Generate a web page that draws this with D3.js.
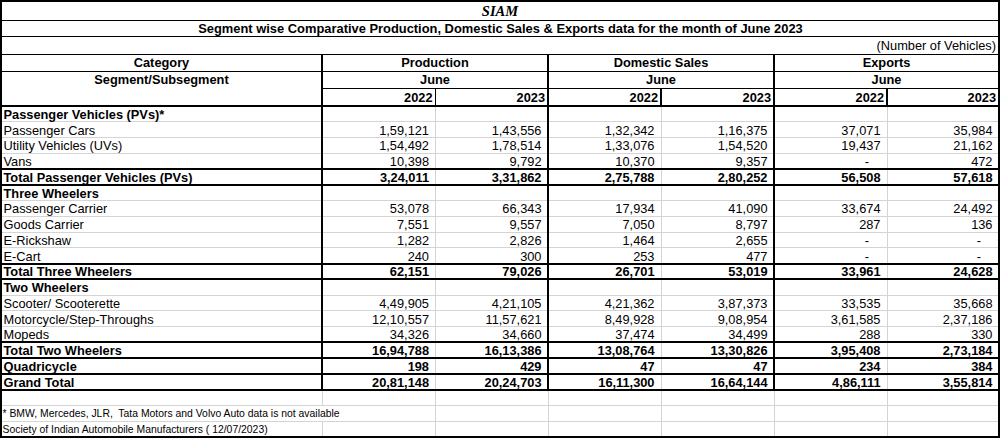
<!DOCTYPE html>
<html><head><meta charset="utf-8">
<script src="https://cdn.jsdelivr.net/npm/d3@7"></script>
<style>
html,body{margin:0;padding:0;background:#fff;}
svg{display:block;font-family:"Liberation Sans",Arial,sans-serif;}
text{white-space:pre;}
</style></head>
<body>
<svg id="c" width="1000" height="438"></svg>
<script>
// ---------- DATA ----------
const categories = [
  "Passenger Vehicles (PVs)*","Passenger Cars","Utility Vehicles (UVs)","Vans",
  "Total Passenger Vehicles (PVs)","Three Wheelers","Passenger Carrier","Goods Carrier",
  "E-Rickshaw","E-Cart","Total Three Wheelers","Two Wheelers","Scooter/ Scooterette",
  "Motorcycle/Step-Throughs","Mopeds","Total Two Wheelers","Quadricycle","Grand Total"
];
const rowTypes = ["group","item","item","item","total","group","item","item","item","item",
  "total","group","item","item","item","total","total","total"];
const empty = null, dash = "-";
const prod2022 = [empty,159121,154492,10398,324011,empty,53078,7551,1282,240,62151,empty,449905,1210557,34326,1694788,198,2081148];
const prod2023 = [empty,143556,178514,9792,331862,empty,66343,9557,2826,300,79026,empty,421105,1157621,34660,1613386,429,2024703];
const dom2022  = [empty,132342,133076,10370,275788,empty,17934,7050,1464,253,26701,empty,421362,849928,37474,1308764,47,1611300];
const dom2023  = [empty,116375,154520,9357,280252,empty,41090,8797,2655,477,53019,empty,387373,908954,34499,1330826,47,1664144];
const exp2022  = [empty,37071,19437,dash,56508,empty,33674,287,dash,dash,33961,empty,33535,361585,288,395408,234,486111];
const exp2023  = [empty,35984,21162,472,57618,empty,24492,136,dash,dash,24628,empty,35668,237186,330,273184,384,355814];
const seriesGroups = ["Production","Domestic Sales","Exports"];
const years = ["2022","2023"];
const monthLabel = "June";
const headerTitle = "SIAM";
const subTitle = "Segment wise Comparative Production, Domestic Sales & Exports data for the month of June 2023";
const unitNote = "(Number of Vehicles)";
const footnotes = ["* BMW, Mercedes, JLR,  Tata Motors and Volvo Auto data is not available",
                   "Society of Indian Automobile Manufacturers ( 12/07/2023)"];

// ---------- HELPERS ----------
function indian(n){
  const s = String(n);
  if (s.length <= 3) return s;
  let last3 = s.slice(-3), rest = s.slice(0,-3);
  rest = rest.replace(/\B(?=(\d{2})+(?!\d))/g, ",");
  return rest + "," + last3;
}
const svg = d3.select("#c");
const DARK = "#000", LIGHT = "#d4d4d4";
const FS = 12.8;

// columns
const colEdges = [1,322,435.5,548,661,774,887,999];
const colIdx = d3.range(6);
const xColR = d3.scaleOrdinal().domain(colIdx).range(colIdx.map(i=>colEdges[i+2]));
const series = [prod2022,prod2023,dom2022,dom2023,exp2022,exp2023];

// rows
const allRows = d3.range(categories.length + 3);
const y = d3.scaleBand().domain(allRows).range([106, 436.75]).padding(0);
const hdr = [1,20,36,54,71,88,106];

const gLines = svg.append("g").attr("shape-rendering","crispEdges");
function hl(x1,x2,yy,c,w){ gLines.append("line").attr("x1",x1).attr("x2",x2).attr("y1",yy).attr("y2",yy).attr("stroke",c).attr("stroke-width",w); }
function vl(xx,y1,y2,c,w){ gLines.append("line").attr("x1",xx).attr("x2",xx).attr("y1",y1).attr("y2",y2).attr("stroke",c).attr("stroke-width",w); }

const yEnd = y(categories.length); // bottom of grand total
// light grid first
allRows.forEach(i=>{ if(i>0) hl(1,999,y(i),LIGHT,1); });
[435.5,661,887].forEach(x=>vl(x,hdr[6],436.75,LIGHT,1));
[322,548,774].forEach(x=>vl(x,yEnd,436.75,LIGHT,1));
// hide 322 line in footnote row
gLines.append("rect").attr("x",300).attr("y",y(categories.length+1)+0.5).attr("width",45).attr("height",y.bandwidth()-1).attr("fill","#fff");
vl(435.5,y(categories.length+1),y(categories.length+2),LIGHT,1);

// dark lines
hl(1,999,hdr[1],DARK,1); hl(1,999,hdr[2],DARK,1); hl(1,999,hdr[3],DARK,1); hl(1,999,hdr[4],DARK,1);
hl(322,999,hdr[5],DARK,1); hl(1,999,hdr[6],DARK,1.5);
rowTypes.forEach((t,i)=>{ if(t==="total"){ hl(1,999,y(i),DARK,2); hl(1,999,y(i)+y.bandwidth(),DARK,2);} });
[322,548,774].forEach(x=>vl(x,hdr[3],yEnd,DARK,1.2));
[435.5,661,887].forEach(x=>vl(x,hdr[5],hdr[6],DARK,1.2));
// outer border
gLines.append("rect").attr("x",1).attr("y",1).attr("width",998).attr("height",435.75).attr("fill","none").attr("stroke",DARK).attr("stroke-width",2);

// ---------- TEXT ----------
const gT = svg.append("g").attr("fill","#000").attr("font-size",FS);
gT.append("text").attr("x",500).attr("y",16).attr("text-anchor","middle")
  .attr("font-family","'Liberation Serif','Times New Roman',serif").attr("font-weight","bold").attr("font-style","italic")
  .attr("font-size",14.5).text(headerTitle);
gT.append("text").attr("x",500.5).attr("y",32.5).attr("text-anchor","middle").attr("font-weight","bold").attr("font-size",12.9).text(subTitle);
gT.append("text").attr("x",996).attr("y",49.5).attr("text-anchor","end").text(unitNote);
gT.append("text").attr("x",161.5).attr("y",67).attr("text-anchor","middle").attr("font-weight","bold").text("Category");
gT.append("text").attr("x",161.5).attr("y",84).attr("text-anchor","middle").attr("font-weight","bold").text("Segment/Subsegment");
seriesGroups.forEach((s,k)=>{
  const cx = (colEdges[1+2*k]+colEdges[3+2*k])/2;
  gT.append("text").attr("x",cx).attr("y",67).attr("text-anchor","middle").attr("font-weight","bold").text(s);
  gT.append("text").attr("x",cx).attr("y",84).attr("text-anchor","middle").attr("font-weight","bold").text(monthLabel);
  years.forEach((yr,j)=>{
    gT.append("text").attr("x",xColR(2*k+j)-3).attr("y",101.5).attr("text-anchor","end").attr("font-weight","bold").text(yr);
  });
});
// rows
categories.forEach((c,i)=>{
  const bold = rowTypes[i]!=="item";
  const by = y(i)+y.bandwidth()-3;
  gT.append("text").attr("x",3.5).attr("y",by).attr("font-weight",bold?"bold":"normal").text(c);
  series.forEach((arr,k)=>{
    const v = arr[i];
    if (v===null) return;
    const txt = v===dash ? "-" : indian(v);
    const xr = xColR(k) - (v===dash ? 20 : 6.5);
    gT.append("text").attr("x",xr).attr("y",by).attr("text-anchor", v===dash?"middle":"end")
      .attr("font-weight",bold?"bold":"normal").text(txt);
  });
});
footnotes.forEach((f,j)=>{
  gT.append("text").attr("x",2.5).attr("y",y(categories.length+1+j)+y.bandwidth()-4).attr("font-size",10.4).text(f);
});
</script>
</body></html>
